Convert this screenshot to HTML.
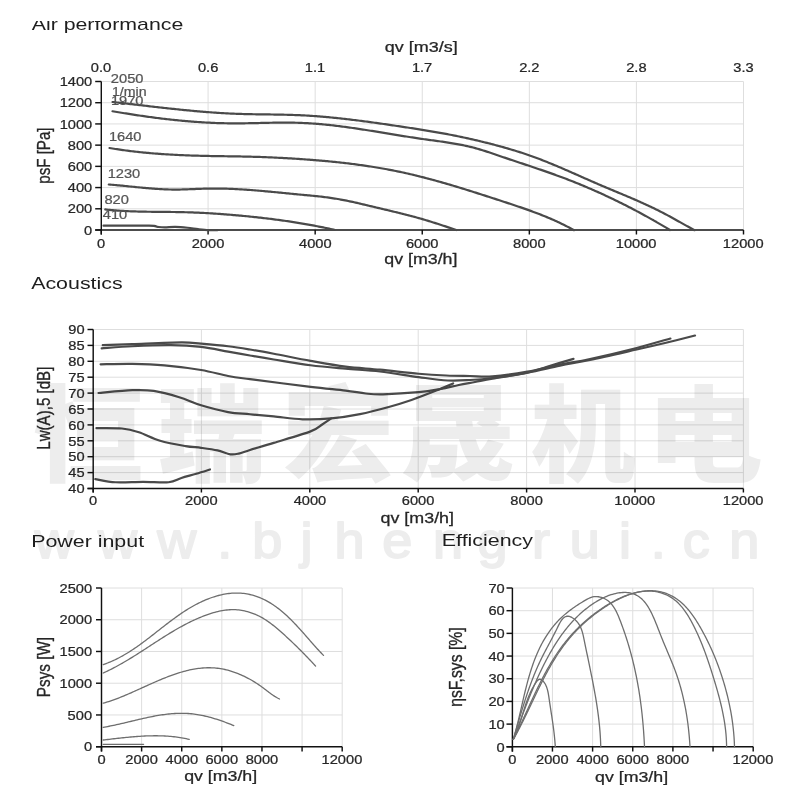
<!DOCTYPE html>
<html><head><meta charset="utf-8"><title>Fan curves</title>
<style>
html,body{margin:0;padding:0;background:#fff;}
body{width:800px;height:800px;overflow:hidden;}
svg{display:block;}
text{font-family:"Liberation Sans",Arial,sans-serif;fill:#262626;stroke:#262626;stroke-width:0.25;}
.ti{fill:#1e1e1e;stroke:none;}
.cl{fill:#555;stroke:#555;}
.g{stroke:#dedede;stroke-width:1;}
.ax{stroke:#111;stroke-width:1.45;}
.c1{fill:none;stroke:#4a4a4a;stroke-width:2.2;stroke-linejoin:round;stroke-linecap:round;}
.c2{fill:none;stroke:#6e6e6e;stroke-width:1.3;stroke-linejoin:round;stroke-linecap:round;}
.wm1{font-family:"Liberation Sans","Noto Sans CJK SC",sans-serif;font-weight:900;fill:#ededed;stroke:none;}
.wm2{font-family:"Liberation Sans",sans-serif;fill:#ededed;stroke:#ededed;stroke-width:1.8;stroke-linejoin:round;}
.wmg{mix-blend-mode:multiply;}
</style></head>
<body><svg width="800" height="800" viewBox="0 0 800 800">
<rect width="800" height="800" fill="#fff"/>
<line class="g" x1="208.08" y1="81.5" x2="208.08" y2="230"/>
<line class="g" x1="315.17" y1="81.5" x2="315.17" y2="230"/>
<line class="g" x1="422.25" y1="81.5" x2="422.25" y2="230"/>
<line class="g" x1="529.33" y1="81.5" x2="529.33" y2="230"/>
<line class="g" x1="636.42" y1="81.5" x2="636.42" y2="230"/>
<line class="g" x1="743.5" y1="81.5" x2="743.5" y2="230"/>
<line class="g" x1="101" y1="208.79" x2="743.5" y2="208.79"/>
<line class="g" x1="101" y1="187.57" x2="743.5" y2="187.57"/>
<line class="g" x1="101" y1="166.36" x2="743.5" y2="166.36"/>
<line class="g" x1="101" y1="145.14" x2="743.5" y2="145.14"/>
<line class="g" x1="101" y1="123.93" x2="743.5" y2="123.93"/>
<line class="g" x1="101" y1="102.71" x2="743.5" y2="102.71"/>
<line class="g" x1="101" y1="81.5" x2="743.5" y2="81.5"/>
<line class="ax" x1="101.3" y1="81.5" x2="101.3" y2="234.5"/>
<line class="ax" x1="95.2" y1="230" x2="743.5" y2="230"/>
<line class="ax" x1="95.2" y1="230" x2="101.3" y2="230"/>
<text class="t" font-size="13.2" transform="translate(84.12 234.7) scale(1.1100 1)">0</text>
<line class="ax" x1="95.2" y1="208.79" x2="101.3" y2="208.79"/>
<text class="t" font-size="13.2" transform="translate(67.82 213.49) scale(1.1100 1)">200</text>
<line class="ax" x1="95.2" y1="187.57" x2="101.3" y2="187.57"/>
<text class="t" font-size="13.2" transform="translate(67.82 192.27) scale(1.1100 1)">400</text>
<line class="ax" x1="95.2" y1="166.36" x2="101.3" y2="166.36"/>
<text class="t" font-size="13.2" transform="translate(67.82 171.06) scale(1.1100 1)">600</text>
<line class="ax" x1="95.2" y1="145.14" x2="101.3" y2="145.14"/>
<text class="t" font-size="13.2" transform="translate(67.82 149.84) scale(1.1100 1)">800</text>
<line class="ax" x1="95.2" y1="123.93" x2="101.3" y2="123.93"/>
<text class="t" font-size="13.2" transform="translate(59.69 128.63) scale(1.1100 1)">1000</text>
<line class="ax" x1="95.2" y1="102.71" x2="101.3" y2="102.71"/>
<text class="t" font-size="13.2" transform="translate(59.69 107.41) scale(1.1100 1)">1200</text>
<line class="ax" x1="95.2" y1="81.5" x2="101.3" y2="81.5"/>
<text class="t" font-size="13.2" transform="translate(59.69 86.2) scale(1.1100 1)">1400</text>
<line class="ax" x1="101.3" y1="230" x2="101.3" y2="234.5"/>
<text class="t" font-size="13.2" transform="translate(96.92 247.5) scale(1.1100 1)">0</text>
<line class="ax" x1="208.08" y1="230" x2="208.08" y2="234.5"/>
<text class="t" font-size="13.2" transform="translate(191.71 247.5) scale(1.1100 1)">2000</text>
<line class="ax" x1="315.17" y1="230" x2="315.17" y2="234.5"/>
<text class="t" font-size="13.2" transform="translate(298.99 247.5) scale(1.1100 1)">4000</text>
<line class="ax" x1="422.25" y1="230" x2="422.25" y2="234.5"/>
<text class="t" font-size="13.2" transform="translate(405.88 247.5) scale(1.1100 1)">6000</text>
<line class="ax" x1="529.33" y1="230" x2="529.33" y2="234.5"/>
<text class="t" font-size="13.2" transform="translate(513.01 247.5) scale(1.1100 1)">8000</text>
<line class="ax" x1="636.42" y1="230" x2="636.42" y2="234.5"/>
<text class="t" font-size="13.2" transform="translate(615.78 247.5) scale(1.1100 1)">10000</text>
<line class="ax" x1="743.5" y1="230" x2="743.5" y2="234.5"/>
<text class="t" font-size="13.2" transform="translate(722.86 247.5) scale(1.1100 1)">12000</text>
<text class="t" font-size="13.2" transform="translate(90.8 72) scale(1.1100 1)">0.0</text>
<text class="t" font-size="13.2" transform="translate(197.92 72) scale(1.1100 1)">0.6</text>
<text class="t" font-size="13.2" transform="translate(304.78 72) scale(1.1100 1)">1.1</text>
<text class="t" font-size="13.2" transform="translate(411.88 72) scale(1.1100 1)">1.7</text>
<text class="t" font-size="13.2" transform="translate(519.15 72) scale(1.1100 1)">2.2</text>
<text class="t" font-size="13.2" transform="translate(626.18 72) scale(1.1100 1)">2.8</text>
<text class="t" font-size="13.2" transform="translate(733.35 72) scale(1.1100 1)">3.3</text>
<path class="c1" d="M112.5,102 113.99,102.16 115.49,102.33 116.98,102.5 118.48,102.67 119.97,102.84 121.46,103.01 122.96,103.18 124.45,103.35 125.95,103.52 127.44,103.69 128.94,103.87 130.43,104.04 131.92,104.21 133.42,104.39 134.91,104.56 136.41,104.73 137.9,104.91 139.4,105.08 140.89,105.26 142.39,105.43 143.88,105.6 145.38,105.78 146.87,105.95 148.36,106.12 149.86,106.29 151.35,106.47 152.85,106.64 154.34,106.81 155.84,106.98 157.34,107.15 158.83,107.32 160.33,107.49 161.82,107.66 163.32,107.82 164.81,107.99 166.31,108.15 167.8,108.32 169.3,108.48 170.8,108.64 172.29,108.8 173.79,108.96 175.28,109.12 176.78,109.28 178.28,109.43 179.77,109.59 181.27,109.74 182.77,109.89 184.26,110.04 185.76,110.18 187.26,110.33 188.75,110.47 190.25,110.62 191.75,110.76 193.24,110.89 194.74,111.03 196.24,111.16 197.74,111.3 199.23,111.43 200.73,111.55 202.23,111.68 203.73,111.8 205.23,111.92 206.72,112.04 208.22,112.16 209.72,112.27 211.22,112.38 212.72,112.49 214.22,112.59 215.72,112.7 217.22,112.79 218.72,112.89 220.21,112.99 221.71,113.08 223.21,113.16 224.71,113.25 226.21,113.33 227.71,113.41 229.21,113.48 230.71,113.55 232.22,113.62 233.72,113.69 235.22,113.75 236.72,113.81 238.22,113.86 239.72,113.91 241.22,113.96 242.72,114 244.23,114.04 245.73,114.08 247.23,114.12 248.73,114.15 250.23,114.18 251.74,114.21 253.24,114.24 254.74,114.26 256.24,114.29 257.75,114.31 259.25,114.33 260.75,114.35 262.25,114.37 263.76,114.39 265.26,114.41 266.76,114.43 268.27,114.45 269.77,114.47 271.27,114.49 272.77,114.51 274.28,114.54 275.78,114.56 277.28,114.58 278.79,114.61 280.29,114.63 281.79,114.66 283.29,114.69 284.8,114.73 286.3,114.76 287.8,114.8 289.3,114.84 290.8,114.89 292.31,114.93 293.81,114.98 295.31,115.04 296.81,115.09 298.31,115.15 299.82,115.22 301.32,115.29 302.82,115.36 304.32,115.44 305.82,115.52 307.32,115.61 308.82,115.7 310.32,115.79 311.82,115.89 313.32,115.99 314.82,116.1 316.32,116.21 317.82,116.32 319.32,116.44 320.82,116.56 322.32,116.68 323.82,116.81 325.31,116.94 326.81,117.07 328.31,117.21 329.81,117.35 331.31,117.49 332.8,117.64 334.3,117.78 335.8,117.94 337.3,118.09 338.79,118.25 340.29,118.41 341.78,118.57 343.28,118.74 344.78,118.91 346.27,119.08 347.77,119.25 349.26,119.43 350.76,119.61 352.25,119.79 353.75,119.97 355.24,120.15 356.74,120.34 358.23,120.53 359.73,120.72 361.22,120.91 362.71,121.11 364.21,121.3 365.7,121.5 367.19,121.7 368.68,121.9 370.18,122.11 371.67,122.31 373.16,122.52 374.65,122.73 376.14,122.94 377.63,123.15 379.12,123.36 380.61,123.57 382.1,123.78 383.59,124 385.08,124.21 386.57,124.43 388.06,124.65 389.55,124.87 391.04,125.09 392.53,125.31 394.02,125.53 395.5,125.75 396.99,125.97 398.48,126.19 399.97,126.41 401.45,126.64 402.94,126.86 404.43,127.08 405.91,127.31 407.4,127.53 408.88,127.76 410.37,127.99 411.85,128.21 413.34,128.44 414.82,128.67 416.3,128.9 417.79,129.14 419.27,129.37 420.75,129.6 422.24,129.84 423.72,130.08 425.2,130.32 426.68,130.56 428.16,130.81 429.65,131.05 431.13,131.3 432.61,131.55 434.09,131.8 435.57,132.06 437.05,132.32 438.53,132.58 440,132.84 441.48,133.1 442.96,133.37 444.44,133.64 445.92,133.92 447.39,134.19 448.87,134.47 450.35,134.76 451.82,135.04 453.3,135.33 454.78,135.63 456.25,135.93 457.72,136.23 459.2,136.53 460.67,136.84 462.15,137.15 463.62,137.46 465.09,137.78 466.56,138.1 468.03,138.42 469.5,138.75 470.97,139.08 472.44,139.41 473.91,139.75 475.38,140.09 476.84,140.43 478.31,140.78 479.78,141.13 481.24,141.48 482.7,141.84 484.17,142.2 485.63,142.56 487.09,142.93 488.55,143.3 490.01,143.67 491.47,144.05 492.92,144.43 494.38,144.81 495.84,145.2 497.29,145.59 498.74,145.98 500.19,146.38 501.64,146.78 503.09,147.18 504.54,147.59 505.99,148 507.43,148.42 508.88,148.84 510.32,149.26 511.76,149.69 513.2,150.12 514.64,150.56 516.07,151 517.51,151.44 518.94,151.89 520.37,152.35 521.8,152.81 523.23,153.28 524.65,153.75 526.08,154.23 527.5,154.72 528.92,155.21 530.33,155.7 531.75,156.2 533.16,156.71 534.57,157.23 535.98,157.75 537.38,158.27 538.79,158.8 540.19,159.34 541.59,159.88 542.99,160.42 544.39,160.97 545.78,161.53 547.18,162.08 548.57,162.65 549.96,163.21 551.35,163.78 552.74,164.36 554.13,164.93 555.52,165.51 556.9,166.1 558.29,166.68 559.67,167.27 561.06,167.86 562.44,168.46 563.82,169.05 565.2,169.65 566.58,170.25 567.96,170.85 569.34,171.45 570.72,172.06 572.09,172.66 573.47,173.27 574.85,173.88 576.23,174.49 577.6,175.1 578.98,175.7 580.36,176.31 581.73,176.92 583.11,177.53 584.49,178.14 585.87,178.75 587.24,179.36 588.62,179.97 590,180.57 591.38,181.18 592.76,181.78 594.14,182.38 595.52,182.98 596.9,183.58 598.28,184.18 599.67,184.77 601.05,185.37 602.44,185.96 603.82,186.54 605.21,187.13 606.59,187.71 607.98,188.3 609.37,188.88 610.76,189.46 612.15,190.04 613.53,190.62 614.92,191.2 616.31,191.78 617.7,192.36 619.09,192.94 620.48,193.52 621.86,194.1 623.25,194.68 624.64,195.26 626.02,195.85 627.41,196.43 628.79,197.02 630.17,197.61 631.55,198.2 632.94,198.79 634.32,199.38 635.69,199.98 637.07,200.58 638.45,201.19 639.82,201.79 641.19,202.4 642.56,203.02 643.93,203.63 645.3,204.26 646.66,204.88 648.03,205.51 649.39,206.15 650.75,206.79 652.1,207.43 653.46,208.08 654.81,208.74 656.15,209.4 657.5,210.07 658.84,210.74 660.18,211.42 661.52,212.11 662.85,212.8 664.19,213.49 665.52,214.2 666.84,214.9 668.17,215.62 669.49,216.33 670.81,217.05 672.13,217.77 673.45,218.5 674.77,219.23 676.08,219.96 677.4,220.69 678.71,221.43 680.03,222.16 681.34,222.9 682.65,223.63 683.97,224.37 685.28,225.1 686.6,225.84 687.91,226.57 689.23,227.3 690.54,228.03 691.86,228.76 693.18,229.49 694.5,230.21"/>
<path class="c1" d="M112.5,111.25 113.99,111.5 115.48,111.75 116.96,112 118.45,112.25 119.94,112.5 121.43,112.74 122.92,112.98 124.41,113.22 125.9,113.46 127.39,113.7 128.88,113.93 130.37,114.17 131.86,114.4 133.35,114.63 134.84,114.85 136.34,115.08 137.83,115.3 139.32,115.52 140.81,115.74 142.31,115.96 143.8,116.17 145.29,116.38 146.79,116.59 148.28,116.8 149.78,117 151.27,117.2 152.77,117.4 154.26,117.6 155.76,117.79 157.25,117.98 158.75,118.17 160.24,118.36 161.74,118.54 163.24,118.72 164.73,118.9 166.23,119.07 167.73,119.25 169.23,119.41 170.73,119.58 172.22,119.74 173.72,119.9 175.22,120.06 176.72,120.21 178.22,120.36 179.72,120.51 181.22,120.65 182.72,120.79 184.22,120.93 185.72,121.07 187.22,121.2 188.72,121.32 190.22,121.45 191.73,121.57 193.23,121.68 194.73,121.8 196.23,121.91 197.74,122.01 199.24,122.11 200.74,122.21 202.24,122.31 203.75,122.4 205.25,122.48 206.76,122.57 208.26,122.64 209.77,122.72 211.27,122.79 212.78,122.86 214.28,122.92 215.79,122.98 217.29,123.03 218.8,123.08 220.31,123.13 221.81,123.17 223.32,123.21 224.83,123.24 226.33,123.27 227.84,123.29 229.35,123.31 230.86,123.33 232.36,123.34 233.87,123.35 235.38,123.35 236.89,123.35 238.4,123.34 239.91,123.33 241.42,123.32 242.93,123.3 244.44,123.28 245.95,123.26 247.46,123.24 248.97,123.21 250.48,123.18 251.99,123.15 253.5,123.12 255.01,123.09 256.52,123.06 258.03,123.03 259.54,122.99 261.05,122.96 262.56,122.92 264.07,122.89 265.58,122.86 267.09,122.83 268.6,122.8 270.11,122.77 271.61,122.74 273.12,122.71 274.63,122.69 276.14,122.67 277.65,122.65 279.16,122.63 280.67,122.62 282.17,122.61 283.68,122.61 285.19,122.61 286.7,122.61 288.2,122.62 289.71,122.63 291.21,122.64 292.72,122.67 294.23,122.69 295.73,122.73 297.23,122.76 298.74,122.81 300.24,122.86 301.74,122.92 303.25,122.98 304.75,123.05 306.25,123.13 307.75,123.21 309.25,123.3 310.75,123.39 312.25,123.49 313.75,123.6 315.25,123.71 316.75,123.83 318.25,123.95 319.75,124.08 321.25,124.21 322.74,124.35 324.24,124.49 325.74,124.64 327.24,124.79 328.73,124.95 330.23,125.11 331.72,125.28 333.22,125.45 334.71,125.62 336.21,125.8 337.7,125.98 339.2,126.16 340.69,126.35 342.19,126.55 343.68,126.74 345.17,126.94 346.67,127.14 348.16,127.35 349.65,127.56 351.15,127.77 352.64,127.98 354.13,128.2 355.62,128.42 357.11,128.64 358.61,128.86 360.1,129.09 361.59,129.31 363.08,129.54 364.57,129.78 366.07,130.01 367.56,130.24 369.05,130.48 370.54,130.72 372.03,130.96 373.52,131.2 375.01,131.44 376.5,131.68 377.99,131.92 379.48,132.17 380.98,132.41 382.47,132.65 383.96,132.9 385.45,133.14 386.94,133.39 388.43,133.63 389.92,133.88 391.41,134.12 392.9,134.37 394.39,134.61 395.89,134.86 397.38,135.1 398.87,135.34 400.36,135.58 401.85,135.82 403.34,136.06 404.83,136.3 406.33,136.53 407.82,136.77 409.31,137 410.8,137.23 412.3,137.46 413.79,137.69 415.28,137.91 416.77,138.14 418.27,138.36 419.76,138.58 421.25,138.79 422.75,139.01 424.24,139.22 425.74,139.43 427.23,139.63 428.73,139.84 430.22,140.04 431.71,140.25 433.21,140.45 434.7,140.66 436.19,140.86 437.69,141.07 439.18,141.28 440.67,141.49 442.16,141.7 443.65,141.92 445.13,142.14 446.62,142.36 448.11,142.59 449.59,142.82 451.08,143.06 452.56,143.3 454.04,143.55 455.52,143.81 456.99,144.07 458.47,144.34 459.94,144.62 461.41,144.9 462.88,145.2 464.35,145.5 465.81,145.82 467.28,146.14 468.74,146.48 470.2,146.82 471.65,147.18 473.1,147.55 474.55,147.93 476,148.33 477.45,148.73 478.89,149.15 480.33,149.58 481.77,150.01 483.2,150.46 484.64,150.92 486.07,151.38 487.5,151.84 488.93,152.32 490.36,152.8 491.79,153.28 493.22,153.76 494.65,154.25 496.08,154.74 497.5,155.23 498.93,155.72 500.36,156.21 501.79,156.69 503.22,157.18 504.65,157.66 506.08,158.15 507.52,158.63 508.95,159.11 510.38,159.59 511.81,160.07 513.25,160.54 514.68,161.02 516.11,161.5 517.55,161.97 518.98,162.45 520.41,162.93 521.85,163.4 523.28,163.88 524.72,164.36 526.15,164.83 527.58,165.31 529.02,165.79 530.45,166.27 531.88,166.75 533.31,167.23 534.74,167.71 536.17,168.2 537.6,168.68 539.03,169.17 540.46,169.65 541.89,170.14 543.32,170.63 544.74,171.13 546.17,171.62 547.6,172.12 549.02,172.62 550.44,173.12 551.86,173.63 553.28,174.13 554.7,174.64 556.12,175.16 557.54,175.67 558.96,176.19 560.37,176.71 561.78,177.24 563.19,177.77 564.6,178.3 566.01,178.84 567.42,179.38 568.83,179.92 570.23,180.47 571.63,181.02 573.03,181.57 574.43,182.13 575.83,182.69 577.23,183.25 578.62,183.82 580.02,184.39 581.41,184.96 582.8,185.54 584.19,186.12 585.58,186.71 586.96,187.3 588.35,187.89 589.73,188.48 591.11,189.08 592.49,189.68 593.87,190.29 595.25,190.9 596.62,191.51 598,192.12 599.37,192.74 600.74,193.36 602.11,193.99 603.48,194.62 604.85,195.25 606.21,195.88 607.58,196.52 608.94,197.16 610.3,197.8 611.66,198.45 613.02,199.1 614.38,199.76 615.73,200.41 617.08,201.08 618.44,201.74 619.79,202.41 621.14,203.08 622.48,203.75 623.83,204.43 625.17,205.1 626.52,205.79 627.86,206.47 629.2,207.16 630.54,207.85 631.87,208.55 633.21,209.25 634.54,209.95 635.88,210.65 637.21,211.36 638.54,212.07 639.86,212.78 641.19,213.5 642.52,214.22 643.84,214.94 645.16,215.67 646.48,216.4 647.8,217.13 649.12,217.86 650.44,218.6 651.75,219.34 653.06,220.08 654.37,220.83 655.69,221.58 656.99,222.33 658.3,223.08 659.61,223.84 660.91,224.6 662.21,225.37 663.51,226.13 664.81,226.9 666.11,227.67 667.41,228.45 668.7,229.23 670,230.01"/>
<path class="c1" d="M109.5,148 110.99,148.25 112.48,148.49 113.97,148.73 115.46,148.97 116.95,149.2 118.44,149.42 119.93,149.64 121.42,149.86 122.92,150.07 124.41,150.27 125.9,150.47 127.4,150.67 128.89,150.86 130.39,151.05 131.88,151.23 133.38,151.41 134.87,151.58 136.37,151.75 137.87,151.92 139.36,152.08 140.86,152.24 142.36,152.39 143.86,152.54 145.36,152.68 146.85,152.82 148.35,152.96 149.85,153.1 151.35,153.23 152.85,153.35 154.35,153.48 155.85,153.59 157.36,153.71 158.86,153.82 160.36,153.93 161.86,154.04 163.36,154.14 164.86,154.24 166.37,154.33 167.87,154.43 169.37,154.52 170.87,154.6 172.38,154.69 173.88,154.77 175.38,154.85 176.89,154.92 178.39,155 179.9,155.07 181.4,155.13 182.9,155.2 184.41,155.26 185.91,155.32 187.42,155.38 188.92,155.43 190.43,155.49 191.93,155.54 193.44,155.59 194.94,155.63 196.45,155.68 197.95,155.72 199.46,155.76 200.96,155.8 202.47,155.84 203.97,155.87 205.48,155.91 206.99,155.94 208.49,155.97 210,156 211.5,156.03 213.01,156.05 214.51,156.08 216.02,156.1 217.52,156.13 219.03,156.15 220.53,156.17 222.04,156.2 223.54,156.22 225.05,156.24 226.56,156.26 228.06,156.28 229.57,156.3 231.07,156.33 232.58,156.35 234.08,156.37 235.59,156.4 237.09,156.42 238.6,156.45 240.1,156.47 241.61,156.5 243.11,156.53 244.62,156.56 246.12,156.59 247.63,156.63 249.13,156.66 250.64,156.7 252.14,156.74 253.64,156.78 255.15,156.83 256.65,156.87 258.16,156.92 259.66,156.97 261.17,157.02 262.67,157.08 264.17,157.13 265.68,157.19 267.18,157.25 268.69,157.31 270.19,157.38 271.69,157.44 273.2,157.51 274.7,157.58 276.21,157.65 277.71,157.73 279.21,157.8 280.72,157.88 282.22,157.96 283.72,158.04 285.23,158.12 286.73,158.21 288.23,158.29 289.74,158.38 291.24,158.47 292.74,158.57 294.25,158.66 295.75,158.76 297.25,158.85 298.76,158.95 300.26,159.05 301.76,159.16 303.27,159.26 304.77,159.37 306.27,159.48 307.77,159.59 309.28,159.7 310.78,159.82 312.28,159.93 313.78,160.05 315.29,160.17 316.79,160.29 318.29,160.42 319.79,160.55 321.29,160.68 322.79,160.81 324.3,160.94 325.8,161.08 327.3,161.22 328.8,161.36 330.3,161.51 331.8,161.65 333.29,161.8 334.79,161.96 336.29,162.11 337.79,162.27 339.29,162.43 340.79,162.59 342.28,162.76 343.78,162.93 345.28,163.1 346.77,163.28 348.27,163.46 349.76,163.64 351.26,163.82 352.75,164.01 354.24,164.2 355.74,164.39 357.23,164.59 358.72,164.79 360.21,165 361.7,165.2 363.19,165.41 364.68,165.63 366.17,165.85 367.66,166.07 369.15,166.29 370.63,166.52 372.12,166.75 373.6,166.99 375.09,167.23 376.57,167.47 378.06,167.72 379.54,167.97 381.02,168.23 382.5,168.49 383.98,168.75 385.46,169.02 386.94,169.29 388.42,169.56 389.9,169.84 391.37,170.13 392.85,170.41 394.32,170.71 395.8,171 397.27,171.3 398.74,171.61 400.22,171.92 401.69,172.23 403.16,172.55 404.62,172.88 406.09,173.2 407.56,173.53 409.02,173.87 410.49,174.21 411.95,174.55 413.42,174.9 414.88,175.25 416.34,175.61 417.8,175.97 419.26,176.33 420.72,176.7 422.18,177.07 423.64,177.44 425.09,177.82 426.55,178.2 428.01,178.58 429.46,178.97 430.92,179.36 432.37,179.75 433.82,180.15 435.27,180.54 436.72,180.95 438.18,181.35 439.63,181.76 441.08,182.17 442.52,182.58 443.97,183 445.42,183.42 446.87,183.84 448.31,184.26 449.76,184.68 451.2,185.11 452.65,185.54 454.09,185.97 455.54,186.41 456.98,186.84 458.42,187.28 459.87,187.72 461.31,188.16 462.75,188.61 464.19,189.05 465.63,189.5 467.07,189.94 468.51,190.39 469.95,190.85 471.39,191.3 472.82,191.75 474.26,192.21 475.7,192.66 477.14,193.12 478.57,193.58 480.01,194.04 481.45,194.5 482.88,194.96 484.32,195.42 485.75,195.88 487.19,196.35 488.62,196.81 490.05,197.27 491.49,197.74 492.92,198.2 494.36,198.67 495.79,199.14 497.22,199.6 498.65,200.07 500.09,200.53 501.52,201 502.95,201.47 504.38,201.93 505.81,202.4 507.25,202.87 508.68,203.34 510.11,203.81 511.53,204.28 512.96,204.75 514.39,205.23 515.82,205.71 517.24,206.19 518.67,206.67 520.09,207.15 521.51,207.64 522.93,208.13 524.35,208.62 525.77,209.12 527.19,209.62 528.6,210.12 530.02,210.63 531.43,211.15 532.84,211.66 534.25,212.18 535.66,212.71 537.06,213.24 538.46,213.78 539.86,214.32 541.26,214.87 542.66,215.42 544.05,215.98 545.44,216.54 546.83,217.12 548.22,217.7 549.6,218.28 550.99,218.87 552.36,219.47 553.74,220.08 555.11,220.69 556.48,221.32 557.85,221.95 559.22,222.58 560.58,223.23 561.93,223.89 563.29,224.55 564.64,225.22 565.99,225.9 567.33,226.6 568.67,227.3 570.01,228.01 571.34,228.73 572.67,229.46 574,230.2"/>
<path class="c1" d="M108.75,184.5 110.26,184.62 111.76,184.74 113.27,184.87 114.78,185 116.29,185.14 117.79,185.28 119.3,185.42 120.81,185.56 122.31,185.71 123.82,185.86 125.33,186.01 126.83,186.16 128.34,186.31 129.85,186.47 131.35,186.62 132.86,186.77 134.37,186.92 135.87,187.07 137.38,187.22 138.89,187.37 140.39,187.52 141.9,187.66 143.41,187.8 144.91,187.94 146.42,188.08 147.93,188.21 149.43,188.34 150.94,188.46 152.45,188.58 153.96,188.69 155.46,188.8 156.97,188.9 158.48,189 159.99,189.09 161.5,189.17 163,189.25 164.51,189.32 166.02,189.38 167.53,189.43 169.04,189.48 170.55,189.51 172.06,189.54 173.57,189.56 175.08,189.57 176.59,189.56 178.1,189.55 179.61,189.53 181.12,189.5 182.63,189.47 184.14,189.43 185.65,189.38 187.16,189.33 188.67,189.27 190.18,189.22 191.69,189.16 193.21,189.1 194.72,189.03 196.23,188.97 197.74,188.91 199.25,188.85 200.76,188.8 202.27,188.75 203.79,188.7 205.3,188.65 206.81,188.62 208.32,188.59 209.83,188.56 211.34,188.54 212.85,188.53 214.36,188.53 215.87,188.53 217.38,188.54 218.89,188.55 220.41,188.58 221.92,188.6 223.43,188.63 224.94,188.67 226.45,188.71 227.96,188.76 229.47,188.81 230.98,188.87 232.49,188.94 234,189 235.5,189.08 237.01,189.15 238.52,189.23 240.03,189.32 241.54,189.41 243.05,189.5 244.56,189.6 246.07,189.7 247.58,189.8 249.09,189.91 250.6,190.02 252.11,190.14 253.61,190.25 255.12,190.37 256.63,190.5 258.14,190.62 259.65,190.75 261.16,190.88 262.66,191.01 264.17,191.14 265.68,191.28 267.19,191.42 268.7,191.56 270.2,191.7 271.71,191.84 273.22,191.98 274.73,192.13 276.23,192.27 277.74,192.42 279.25,192.56 280.75,192.71 282.26,192.86 283.77,193.01 285.28,193.15 286.78,193.3 288.29,193.45 289.8,193.6 291.3,193.74 292.81,193.89 294.32,194.04 295.82,194.18 297.33,194.32 298.83,194.47 300.34,194.61 301.85,194.75 303.35,194.89 304.86,195.03 306.36,195.17 307.87,195.31 309.37,195.45 310.88,195.6 312.38,195.74 313.88,195.89 315.39,196.05 316.89,196.2 318.39,196.36 319.89,196.53 321.39,196.7 322.89,196.88 324.39,197.06 325.88,197.25 327.38,197.45 328.87,197.65 330.37,197.86 331.86,198.08 333.35,198.3 334.84,198.54 336.33,198.78 337.82,199.03 339.31,199.29 340.79,199.55 342.28,199.83 343.76,200.11 345.24,200.4 346.73,200.7 348.21,201 349.69,201.31 351.16,201.63 352.64,201.95 354.12,202.28 355.6,202.61 357.07,202.94 358.55,203.28 360.02,203.62 361.5,203.97 362.97,204.31 364.45,204.66 365.92,205.01 367.4,205.37 368.87,205.72 370.34,206.07 371.82,206.43 373.29,206.78 374.76,207.13 376.24,207.49 377.71,207.84 379.19,208.19 380.66,208.54 382.13,208.89 383.61,209.24 385.08,209.59 386.56,209.94 388.03,210.29 389.5,210.64 390.97,210.99 392.45,211.34 393.92,211.7 395.39,212.05 396.86,212.41 398.33,212.77 399.8,213.13 401.27,213.5 402.73,213.86 404.2,214.23 405.67,214.6 407.13,214.98 408.59,215.35 410.06,215.74 411.52,216.12 412.98,216.51 414.44,216.9 415.89,217.3 417.35,217.7 418.8,218.11 420.26,218.52 421.71,218.93 423.16,219.36 424.6,219.78 426.05,220.21 427.5,220.65 428.94,221.09 430.38,221.54 431.82,221.99 433.26,222.44 434.7,222.9 436.14,223.36 437.58,223.82 439.02,224.28 440.45,224.75 441.89,225.22 443.32,225.7 444.76,226.17 446.2,226.65 447.63,227.13 449.07,227.6 450.5,228.08 451.94,228.56 453.37,229.04 454.81,229.53 456.25,230.01"/>
<path class="c1" d="M105.25,209.41 106.75,209.58 108.26,209.74 109.77,209.89 111.27,210.03 112.78,210.17 114.28,210.3 115.79,210.42 117.3,210.53 118.8,210.64 120.31,210.74 121.82,210.84 123.33,210.93 124.83,211.01 126.34,211.09 127.85,211.16 129.36,211.23 130.87,211.29 132.38,211.35 133.88,211.41 135.39,211.46 136.9,211.5 138.41,211.54 139.92,211.58 141.43,211.62 142.94,211.65 144.45,211.68 145.96,211.71 147.47,211.73 148.98,211.75 150.49,211.77 152,211.79 153.51,211.81 155.02,211.82 156.53,211.84 158.04,211.85 159.55,211.87 161.06,211.88 162.57,211.89 164.08,211.9 165.59,211.92 167.1,211.93 168.61,211.95 170.12,211.96 171.63,211.98 173.14,212 174.65,212.02 176.16,212.04 177.67,212.06 179.18,212.09 180.69,212.12 182.2,212.15 183.71,212.19 185.22,212.23 186.72,212.27 188.23,212.31 189.74,212.36 191.25,212.41 192.76,212.47 194.27,212.53 195.78,212.59 197.28,212.65 198.79,212.72 200.3,212.79 201.81,212.86 203.31,212.94 204.82,213.02 206.33,213.1 207.84,213.18 209.34,213.27 210.85,213.36 212.36,213.45 213.86,213.55 215.37,213.65 216.88,213.75 218.38,213.85 219.89,213.96 221.4,214.07 222.9,214.18 224.41,214.29 225.92,214.41 227.42,214.53 228.93,214.65 230.43,214.77 231.94,214.9 233.44,215.03 234.95,215.16 236.45,215.29 237.96,215.42 239.46,215.56 240.97,215.7 242.47,215.84 243.98,215.98 245.48,216.13 246.99,216.28 248.49,216.43 250,216.58 251.5,216.73 253,216.89 254.51,217.05 256.01,217.21 257.51,217.37 259.02,217.54 260.52,217.71 262.02,217.88 263.52,218.05 265.03,218.23 266.53,218.41 268.03,218.59 269.53,218.78 271.03,218.96 272.53,219.15 274.03,219.34 275.53,219.54 277.03,219.74 278.53,219.94 280.02,220.14 281.52,220.35 283.02,220.56 284.51,220.77 286.01,220.99 287.51,221.21 289,221.43 290.49,221.65 291.99,221.88 293.48,222.11 294.97,222.35 296.47,222.58 297.96,222.82 299.45,223.07 300.94,223.32 302.43,223.57 303.92,223.82 305.41,224.08 306.89,224.34 308.38,224.6 309.87,224.87 311.35,225.14 312.83,225.42 314.32,225.7 315.8,225.98 317.28,226.26 318.76,226.55 320.25,226.85 321.73,227.14 323.2,227.44 324.68,227.75 326.16,228.06 327.64,228.37 329.11,228.68 330.58,229 332.06,229.33 333.53,229.65 335,229.99"/>
<path class="c1" d="M103.5,225.65 C111.08,225.65 139.96,225.44 149,225.65 C158.04,225.86 155.12,226.61 157.75,226.9 C160.38,227.19 161.83,227.4 164.75,227.4 C167.67,227.4 171.46,226.84 175.25,226.9 C179.04,226.96 183.71,227.38 187.5,227.75 C191.29,228.12 194.5,228.74 198,229.15 C201.5,229.56 205.25,230.02 208.5,230.2 C211.75,230.38 216,230.2 217.5,230.2"/>
<text class="cl" font-size="13.2" transform="translate(110.87 82.9) scale(1.1100 1)">2050</text>
<text class="cl" font-size="13.2" transform="translate(110.9 104.8) scale(1.1100 1)">1970</text>
<text class="cl" font-size="13.2" transform="translate(108.9 141.25) scale(1.1100 1)">1640</text>
<text class="cl" font-size="13.2" transform="translate(107.65 178.1) scale(1.1100 1)">1230</text>
<text class="cl" font-size="13.2" transform="translate(104.38 203.75) scale(1.1100 1)">820</text>
<text class="cl" font-size="13.2" transform="translate(102.77 219.4) scale(1.1100 1)">410</text>
<text class="cl" font-size="13.2" transform="translate(111.94 95.6) scale(1.0736 1)">1/min</text>
<text class="ti" font-size="17" transform="translate(31.7 30.35) scale(1.2547 1)">Air performance</text>
<text class="t" font-size="14" transform="translate(384.74 51.5) scale(1.2855 1)">qv [m3/s]</text>
<text class="t" font-size="14" transform="translate(384.24 264.4) scale(1.2723 1)">qv [m3/h]</text>
<text class="t" font-size="14" transform="translate(49.8 183.73) scale(1.32 1) rotate(-90) scale(1.0801 1)">psF [Pa]</text>
<line class="g" x1="201.4" y1="329.5" x2="201.4" y2="488.5"/>
<line class="g" x1="309.8" y1="329.5" x2="309.8" y2="488.5"/>
<line class="g" x1="418.2" y1="329.5" x2="418.2" y2="488.5"/>
<line class="g" x1="526.6" y1="329.5" x2="526.6" y2="488.5"/>
<line class="g" x1="635" y1="329.5" x2="635" y2="488.5"/>
<line class="g" x1="743.4" y1="329.5" x2="743.4" y2="488.5"/>
<line class="g" x1="93" y1="472.6" x2="743.4" y2="472.6"/>
<line class="g" x1="93" y1="456.7" x2="743.4" y2="456.7"/>
<line class="g" x1="93" y1="440.8" x2="743.4" y2="440.8"/>
<line class="g" x1="93" y1="424.9" x2="743.4" y2="424.9"/>
<line class="g" x1="93" y1="409" x2="743.4" y2="409"/>
<line class="g" x1="93" y1="393.1" x2="743.4" y2="393.1"/>
<line class="g" x1="93" y1="377.2" x2="743.4" y2="377.2"/>
<line class="g" x1="93" y1="361.3" x2="743.4" y2="361.3"/>
<line class="g" x1="93" y1="345.4" x2="743.4" y2="345.4"/>
<line class="g" x1="93" y1="329.5" x2="743.4" y2="329.5"/>
<line class="ax" x1="93.2" y1="329.5" x2="93.2" y2="492.5"/>
<line class="ax" x1="87.5" y1="488.5" x2="743.4" y2="488.5"/>
<line class="ax" x1="87.5" y1="488.5" x2="93.2" y2="488.5"/>
<text class="t" font-size="13.2" transform="translate(68.29 493.2) scale(1.1100 1)">40</text>
<line class="ax" x1="87.5" y1="472.6" x2="93.2" y2="472.6"/>
<text class="t" font-size="13.2" transform="translate(68.32 477.3) scale(1.1100 1)">45</text>
<line class="ax" x1="87.5" y1="456.7" x2="93.2" y2="456.7"/>
<text class="t" font-size="13.2" transform="translate(68.29 461.4) scale(1.1100 1)">50</text>
<line class="ax" x1="87.5" y1="440.8" x2="93.2" y2="440.8"/>
<text class="t" font-size="13.2" transform="translate(68.32 445.5) scale(1.1100 1)">55</text>
<line class="ax" x1="87.5" y1="424.9" x2="93.2" y2="424.9"/>
<text class="t" font-size="13.2" transform="translate(68.29 429.6) scale(1.1100 1)">60</text>
<line class="ax" x1="87.5" y1="409" x2="93.2" y2="409"/>
<text class="t" font-size="13.2" transform="translate(68.32 413.7) scale(1.1100 1)">65</text>
<line class="ax" x1="87.5" y1="393.1" x2="93.2" y2="393.1"/>
<text class="t" font-size="13.2" transform="translate(68.29 397.8) scale(1.1100 1)">70</text>
<line class="ax" x1="87.5" y1="377.2" x2="93.2" y2="377.2"/>
<text class="t" font-size="13.2" transform="translate(68.32 381.9) scale(1.1100 1)">75</text>
<line class="ax" x1="87.5" y1="361.3" x2="93.2" y2="361.3"/>
<text class="t" font-size="13.2" transform="translate(68.29 366) scale(1.1100 1)">80</text>
<line class="ax" x1="87.5" y1="345.4" x2="93.2" y2="345.4"/>
<text class="t" font-size="13.2" transform="translate(68.32 350.1) scale(1.1100 1)">85</text>
<line class="ax" x1="87.5" y1="329.5" x2="93.2" y2="329.5"/>
<text class="t" font-size="13.2" transform="translate(68.29 334.2) scale(1.1100 1)">90</text>
<line class="ax" x1="93.2" y1="488.5" x2="93.2" y2="492.5"/>
<text class="t" font-size="13.2" transform="translate(88.92 505.4) scale(1.1100 1)">0</text>
<line class="ax" x1="201.4" y1="488.5" x2="201.4" y2="492.5"/>
<text class="t" font-size="13.2" transform="translate(185.03 505.4) scale(1.1100 1)">2000</text>
<line class="ax" x1="309.8" y1="488.5" x2="309.8" y2="492.5"/>
<text class="t" font-size="13.2" transform="translate(293.63 505.4) scale(1.1100 1)">4000</text>
<line class="ax" x1="418.2" y1="488.5" x2="418.2" y2="492.5"/>
<text class="t" font-size="13.2" transform="translate(401.83 505.4) scale(1.1100 1)">6000</text>
<line class="ax" x1="526.6" y1="488.5" x2="526.6" y2="492.5"/>
<text class="t" font-size="13.2" transform="translate(510.28 505.4) scale(1.1100 1)">8000</text>
<line class="ax" x1="635" y1="488.5" x2="635" y2="492.5"/>
<text class="t" font-size="13.2" transform="translate(614.36 505.4) scale(1.1100 1)">10000</text>
<line class="ax" x1="743.4" y1="488.5" x2="743.4" y2="492.5"/>
<text class="t" font-size="13.2" transform="translate(722.76 505.4) scale(1.1100 1)">12000</text>
<path class="c1" d="M102.75,345.2 C107.71,345.02 119.39,344.57 132.5,344.1 C145.61,343.63 169.97,342.47 181.4,342.4 C192.83,342.33 193.32,343.06 201.1,343.7 C208.88,344.34 219.95,345.28 228.1,346.25 C236.25,347.22 242.39,348.25 250,349.5 C257.61,350.75 263.66,351.85 273.75,353.75 C283.84,355.65 298.57,358.74 310.55,360.9 C322.53,363.06 334.03,365.23 345.6,366.7 C357.18,368.17 367.82,368.52 380,369.7 C392.18,370.88 407.65,372.78 418.7,373.75 C429.75,374.72 437.75,375.12 446.3,375.5 C454.85,375.88 462.3,375.87 470,376 C477.7,376.13 482.93,377.03 492.5,376.3 C502.07,375.57 516.15,373.55 527.4,371.6 C538.65,369.65 549.57,366.7 560,364.6 C570.43,362.5 577.4,361.73 590,359 C602.6,356.27 622.2,351.62 635.6,348.2 C649,344.78 664.6,340.12 670.4,338.5"/>
<path class="c1" d="M101.7,348.4 C106.83,348.04 120.99,346.78 132.5,346.25 C144.01,345.72 159.32,345.09 170.75,345.2 C182.18,345.31 191.54,345.83 201.1,346.9 C210.66,347.97 219.95,350.17 228.1,351.6 C236.25,353.03 242.39,354.18 250,355.5 C257.61,356.82 263.66,357.88 273.75,359.5 C283.84,361.12 298.57,363.72 310.55,365.25 C322.53,366.78 334.03,367.66 345.6,368.7 C357.18,369.74 367.82,370.1 380,371.5 C392.18,372.9 407.45,375.6 418.7,377.1 C429.95,378.6 438.95,380.02 447.5,380.5 C456.05,380.98 462.5,380.42 470,380 C477.5,379.58 482.93,379.23 492.5,378 C502.07,376.77 516.15,374.67 527.4,372.6 C538.65,370.53 549.57,367.7 560,365.6 C570.43,363.5 577.4,362.63 590,360 C602.6,357.37 623.1,352.63 635.6,349.8 C648.1,346.97 655.1,345.38 665,343 C674.9,340.62 690,336.75 695,335.5"/>
<path class="c1" d="M100.6,364.3 C105.92,364.23 121.87,363.72 132.5,363.9 C143.13,364.08 152.97,364.38 164.4,365.4 C175.83,366.42 190.48,368.23 201.1,370 C211.72,371.77 219.95,374.47 228.1,376 C236.25,377.53 236.26,377.4 250,379.2 C263.74,381 294.62,384.91 310.55,386.8 C326.48,388.69 336.4,389.43 345.6,390.55 C354.8,391.67 359.52,392.88 365.75,393.5 C371.98,394.12 374.18,394.52 383,394.3 C391.82,394.08 409.12,393.08 418.7,392.2 C428.28,391.32 433.82,390.2 440.5,389 C447.18,387.8 453,386.17 458.75,385 C464.5,383.83 469.38,383.05 475,382 C480.62,380.95 483.77,380.27 492.5,378.7 C501.23,377.13 517.65,374.8 527.4,372.6 C537.15,370.4 543.32,367.78 551,365.5 C558.68,363.22 569.75,360 573.5,358.9"/>
<path class="c1" d="M98.5,393 C104.17,392.53 123.29,390.55 132.5,390.2 C141.71,389.85 145.96,389.72 153.75,390.9 C161.54,392.07 171.36,394.85 179.25,397.25 C187.14,399.65 192.96,402.82 201.1,405.3 C209.24,407.78 219.95,410.61 228.1,412.1 C236.25,413.59 242.39,413.53 250,414.25 C257.61,414.97 265,415.56 273.75,416.4 C282.5,417.24 292.92,418.97 302.5,419.3 C312.08,419.63 321.67,419.27 331.25,418.4 C340.83,417.53 350.42,416 360,414.1 C369.58,412.2 380.17,409.35 388.75,407 C397.33,404.65 403.58,402.73 411.5,400 C419.42,397.27 429.32,393.37 436.25,390.6 C443.18,387.83 450.29,384.6 453.1,383.4"/>
<path class="c1" d="M96.4,428.1 C100.65,428.17 114.82,427.8 121.9,428.5 C128.98,429.2 132.53,430.25 138.9,432.3 C145.27,434.35 152.32,438.5 160.1,440.8 C167.88,443.1 178.77,444.93 185.6,446.1 C192.43,447.27 195.78,447.08 201.1,447.8 C206.42,448.52 212.64,449.32 217.5,450.4 C222.36,451.48 226.71,453.77 230.25,454.3 C233.79,454.83 235.46,454.32 238.75,453.6 C242.04,452.88 244.17,451.78 250,450 C255.83,448.22 263.66,446 273.75,442.9 C283.84,439.8 302.41,434.52 310.55,431.4 C318.69,428.28 319.15,426.37 322.6,424.2 C326.05,422.03 329.81,419.37 331.25,418.4"/>
<path class="c1" d="M95.3,479.1 C98.67,479.62 107.53,481.8 115.5,482.25 C123.47,482.7 134.25,481.8 143.1,481.8 C151.95,481.8 162.22,482.88 168.6,482.25 C174.98,481.62 176.79,479.42 181.4,478 C186.01,476.58 191.48,475.17 196.25,473.75 C201.02,472.33 207.71,470.21 210,469.5"/>
<text class="ti" font-size="17" transform="translate(31.15 288.8) scale(1.2590 1)">Acoustics</text>
<text class="t" font-size="14" transform="translate(380.54 523) scale(1.2768 1)">qv [m3/h]</text>
<text class="t" font-size="14" transform="translate(49.8 449.75) scale(1.32 1) rotate(-90) scale(1.0788 1)">Lw(A),5 [dB]</text>
<line class="g" x1="141.62" y1="588" x2="141.62" y2="746.7"/>
<line class="g" x1="181.73" y1="588" x2="181.73" y2="746.7"/>
<line class="g" x1="221.85" y1="588" x2="221.85" y2="746.7"/>
<line class="g" x1="261.97" y1="588" x2="261.97" y2="746.7"/>
<line class="g" x1="302.08" y1="588" x2="302.08" y2="746.7"/>
<line class="g" x1="342.2" y1="588" x2="342.2" y2="746.7"/>
<line class="g" x1="101.5" y1="714.96" x2="342.2" y2="714.96"/>
<line class="g" x1="101.5" y1="683.22" x2="342.2" y2="683.22"/>
<line class="g" x1="101.5" y1="651.48" x2="342.2" y2="651.48"/>
<line class="g" x1="101.5" y1="619.74" x2="342.2" y2="619.74"/>
<line class="g" x1="101.5" y1="588" x2="342.2" y2="588"/>
<line class="ax" x1="101.5" y1="588" x2="101.5" y2="751.5"/>
<line class="ax" x1="96" y1="746.7" x2="342.2" y2="746.7"/>
<line class="ax" x1="96" y1="746.7" x2="101.5" y2="746.7"/>
<text class="t" font-size="13.2" transform="translate(83.92 751.4) scale(1.1100 1)">0</text>
<line class="ax" x1="96" y1="714.96" x2="101.5" y2="714.96"/>
<text class="t" font-size="13.2" transform="translate(67.62 719.66) scale(1.1100 1)">500</text>
<line class="ax" x1="96" y1="683.22" x2="101.5" y2="683.22"/>
<text class="t" font-size="13.2" transform="translate(59.49 687.92) scale(1.1100 1)">1000</text>
<line class="ax" x1="96" y1="651.48" x2="101.5" y2="651.48"/>
<text class="t" font-size="13.2" transform="translate(59.49 656.18) scale(1.1100 1)">1500</text>
<line class="ax" x1="96" y1="619.74" x2="101.5" y2="619.74"/>
<text class="t" font-size="13.2" transform="translate(59.49 624.44) scale(1.1100 1)">2000</text>
<line class="ax" x1="96" y1="588" x2="101.5" y2="588"/>
<text class="t" font-size="13.2" transform="translate(59.49 592.7) scale(1.1100 1)">2500</text>
<line class="ax" x1="101.5" y1="746.7" x2="101.5" y2="751.5"/>
<text class="t" font-size="13.2" transform="translate(97.42 764.2) scale(1.1100 1)">0</text>
<line class="ax" x1="141.62" y1="746.7" x2="141.62" y2="751.5"/>
<text class="t" font-size="13.2" transform="translate(125.24 764.2) scale(1.1100 1)">2000</text>
<line class="ax" x1="181.73" y1="746.7" x2="181.73" y2="751.5"/>
<text class="t" font-size="13.2" transform="translate(165.56 764.2) scale(1.1100 1)">4000</text>
<line class="ax" x1="221.85" y1="746.7" x2="221.85" y2="751.5"/>
<text class="t" font-size="13.2" transform="translate(205.48 764.2) scale(1.1100 1)">6000</text>
<line class="ax" x1="261.97" y1="746.7" x2="261.97" y2="751.5"/>
<text class="t" font-size="13.2" transform="translate(245.65 764.2) scale(1.1100 1)">8000</text>
<line class="ax" x1="302.08" y1="746.7" x2="302.08" y2="751.5"/>
<line class="ax" x1="342.2" y1="746.7" x2="342.2" y2="751.5"/>
<text class="t" font-size="13.2" transform="translate(321.56 764.2) scale(1.1100 1)">12000</text>
<path class="c2" d="M103.2,664.6 104.66,664.09 106.11,663.56 107.55,663.01 108.97,662.44 110.39,661.86 111.79,661.25 113.18,660.63 114.57,659.99 115.94,659.33 117.3,658.66 118.65,657.97 119.99,657.26 121.32,656.54 122.65,655.81 123.96,655.06 125.27,654.3 126.57,653.52 127.86,652.74 129.14,651.94 130.42,651.13 131.69,650.3 132.95,649.47 134.21,648.63 135.46,647.78 136.71,646.92 137.95,646.05 139.18,645.17 140.42,644.28 141.64,643.39 142.87,642.49 144.08,641.59 145.3,640.67 146.51,639.76 147.72,638.84 148.93,637.91 150.13,636.98 151.34,636.05 152.54,635.12 153.74,634.18 154.94,633.24 156.14,632.3 157.33,631.36 158.53,630.42 159.73,629.48 160.93,628.54 162.13,627.6 163.33,626.67 164.53,625.73 165.73,624.8 166.94,623.87 168.15,622.95 169.36,622.03 170.57,621.11 171.79,620.2 173.01,619.3 174.23,618.4 175.46,617.51 176.69,616.62 177.93,615.74 179.17,614.87 180.42,614.01 181.67,613.16 182.93,612.32 184.19,611.49 185.46,610.67 186.74,609.86 188.03,609.06 189.32,608.27 190.62,607.5 191.93,606.74 193.25,605.99 194.57,605.26 195.91,604.54 197.25,603.83 198.6,603.15 199.96,602.47 201.34,601.82 202.72,601.18 204.12,600.56 205.52,599.95 206.93,599.37 208.35,598.81 209.78,598.26 211.22,597.74 212.67,597.25 214.12,596.77 215.58,596.32 217.05,595.89 218.52,595.5 219.99,595.12 221.47,594.78 222.96,594.46 224.44,594.17 225.93,593.92 227.43,593.69 228.92,593.49 230.42,593.33 231.92,593.2 233.41,593.11 234.91,593.05 236.41,593.03 237.91,593.04 239.4,593.09 240.9,593.18 242.39,593.31 243.87,593.47 245.36,593.67 246.83,593.91 248.31,594.19 249.77,594.5 251.23,594.84 252.68,595.22 254.13,595.64 255.56,596.09 256.99,596.57 258.4,597.09 259.8,597.64 261.19,598.23 262.57,598.84 263.94,599.49 265.29,600.17 266.63,600.88 267.95,601.62 269.27,602.38 270.57,603.17 271.86,603.98 273.13,604.82 274.4,605.68 275.65,606.57 276.88,607.47 278.11,608.39 279.32,609.33 280.52,610.29 281.71,611.27 282.88,612.26 284.04,613.26 285.19,614.28 286.33,615.31 287.46,616.35 288.58,617.41 289.69,618.48 290.78,619.55 291.87,620.64 292.95,621.73 294.02,622.84 295.09,623.95 296.15,625.07 297.2,626.19 298.24,627.32 299.28,628.45 300.31,629.59 301.33,630.74 302.36,631.88 303.37,633.03 304.39,634.18 305.4,635.33 306.4,636.48 307.41,637.63 308.41,638.78 309.41,639.92 310.41,641.07 311.41,642.21 312.41,643.34 313.41,644.48 314.41,645.6 315.41,646.72 316.41,647.84 317.41,648.95 318.42,650.04 319.43,651.14 320.44,652.22 321.46,653.29 322.48,654.35 323.5,655.4"/>
<path class="c2" d="M103.2,673 104.59,672.37 105.97,671.73 107.34,671.08 108.71,670.42 110.07,669.75 111.43,669.07 112.78,668.38 114.12,667.68 115.46,666.97 116.8,666.26 118.13,665.53 119.46,664.8 120.78,664.05 122.09,663.31 123.41,662.55 124.72,661.79 126.02,661.02 127.32,660.24 128.62,659.46 129.92,658.68 131.21,657.89 132.5,657.09 133.79,656.29 135.07,655.48 136.35,654.68 137.63,653.86 138.91,653.05 140.19,652.23 141.47,651.41 142.74,650.59 144.01,649.77 145.29,648.94 146.56,648.11 147.83,647.29 149.1,646.46 150.37,645.63 151.64,644.8 152.91,643.98 154.18,643.15 155.45,642.32 156.73,641.5 158,640.68 159.28,639.86 160.55,639.04 161.83,638.23 163.11,637.42 164.39,636.61 165.68,635.8 166.96,635 168.25,634.21 169.54,633.42 170.84,632.63 172.13,631.85 173.43,631.08 174.74,630.31 176.05,629.55 177.36,628.79 178.67,628.05 179.99,627.3 181.32,626.57 182.65,625.85 183.98,625.13 185.32,624.42 186.66,623.73 188.01,623.04 189.36,622.36 190.72,621.69 192.09,621.03 193.46,620.38 194.84,619.74 196.23,619.12 197.62,618.5 199.02,617.9 200.42,617.31 201.83,616.73 203.25,616.17 204.68,615.62 206.11,615.09 207.55,614.57 209,614.07 210.45,613.59 211.91,613.13 213.37,612.69 214.84,612.28 216.31,611.89 217.79,611.53 219.27,611.2 220.75,610.89 222.24,610.61 223.72,610.37 225.22,610.16 226.71,609.98 228.2,609.84 229.7,609.74 231.19,609.67 232.69,609.65 234.18,609.66 235.68,609.72 237.17,609.82 238.67,609.97 240.16,610.15 241.64,610.38 243.12,610.64 244.6,610.95 246.07,611.29 247.53,611.67 248.99,612.09 250.43,612.54 251.87,613.04 253.29,613.56 254.71,614.12 256.11,614.72 257.49,615.35 258.86,616.01 260.22,616.7 261.56,617.43 262.89,618.18 264.19,618.96 265.49,619.78 266.76,620.61 268.02,621.47 269.27,622.36 270.51,623.26 271.73,624.18 272.94,625.12 274.14,626.08 275.34,627.05 276.52,628.03 277.69,629.02 278.85,630.02 280.01,631.03 281.16,632.04 282.31,633.06 283.44,634.08 284.58,635.1 285.71,636.13 286.83,637.16 287.95,638.19 289.06,639.23 290.17,640.26 291.27,641.3 292.37,642.35 293.46,643.39 294.55,644.44 295.64,645.5 296.72,646.55 297.8,647.61 298.87,648.67 299.94,649.74 301.01,650.8 302.07,651.88 303.13,652.95 304.18,654.03 305.24,655.11 306.28,656.19 307.33,657.28 308.37,658.37 309.41,659.46 310.45,660.56 311.49,661.66 312.52,662.76 313.55,663.87 314.58,664.98 315.6,666.1"/>
<path class="c2" d="M103.21,703.2 104.59,702.81 105.98,702.4 107.37,701.97 108.75,701.53 110.14,701.07 111.53,700.6 112.93,700.11 114.32,699.61 115.71,699.1 117.11,698.57 118.5,698.04 119.9,697.49 121.29,696.93 122.69,696.36 124.09,695.78 125.49,695.19 126.89,694.6 128.29,694 129.7,693.39 131.1,692.78 132.5,692.16 133.91,691.53 135.32,690.9 136.72,690.27 138.13,689.63 139.54,688.99 140.95,688.35 142.37,687.71 143.78,687.07 145.19,686.43 146.61,685.79 148.03,685.15 149.44,684.51 150.86,683.88 152.28,683.25 153.7,682.62 155.13,682 156.55,681.38 157.97,680.76 159.4,680.16 160.83,679.56 162.25,678.97 163.68,678.38 165.11,677.81 166.55,677.24 167.98,676.69 169.41,676.14 170.85,675.61 172.28,675.09 173.72,674.58 175.16,674.09 176.6,673.6 178.04,673.14 179.49,672.68 180.93,672.25 182.38,671.83 183.82,671.42 185.27,671.04 186.72,670.67 188.17,670.32 189.62,669.99 191.08,669.68 192.53,669.39 193.99,669.12 195.44,668.88 196.9,668.65 198.36,668.45 199.83,668.28 201.29,668.12 202.75,668 204.22,667.9 205.69,667.82 207.16,667.77 208.63,667.75 210.1,667.76 211.57,667.79 213.05,667.86 214.52,667.95 216,668.08 217.48,668.23 218.96,668.42 220.44,668.64 221.93,668.9 223.41,669.18 224.9,669.5 226.38,669.85 227.87,670.23 229.35,670.64 230.83,671.08 232.3,671.55 233.77,672.05 235.24,672.57 236.7,673.11 238.15,673.68 239.6,674.28 241.04,674.9 242.46,675.54 243.88,676.2 245.29,676.88 246.68,677.58 248.06,678.3 249.43,679.03 250.79,679.79 252.13,680.56 253.45,681.34 254.76,682.14 256.05,682.95 257.32,683.77 258.57,684.61 259.8,685.45 261.01,686.31 262.2,687.18 263.37,688.05 264.53,688.93 265.67,689.81 266.81,690.69 267.95,691.57 269.11,692.45 270.28,693.32 271.47,694.18 272.7,695.03 273.96,695.86 275.26,696.68 276.61,697.48 278.02,698.25 279.49,699"/>
<path class="c2" d="M103.2,727.3 104.67,727.06 106.15,726.79 107.62,726.52 109.1,726.24 110.57,725.95 112.05,725.65 113.53,725.35 115.01,725.03 116.49,724.71 117.97,724.38 119.46,724.05 120.94,723.71 122.43,723.36 123.91,723.02 125.4,722.67 126.88,722.31 128.37,721.96 129.86,721.6 131.35,721.25 132.84,720.89 134.33,720.54 135.82,720.18 137.32,719.83 138.81,719.48 140.3,719.13 141.8,718.79 143.29,718.45 144.79,718.12 146.28,717.79 147.78,717.47 149.28,717.15 150.77,716.85 152.27,716.55 153.77,716.26 155.27,715.98 156.76,715.71 158.26,715.45 159.76,715.2 161.26,714.97 162.76,714.75 164.26,714.54 165.76,714.34 167.26,714.16 168.76,714 170.26,713.85 171.76,713.71 173.26,713.6 174.76,713.5 176.26,713.42 177.76,713.36 179.26,713.32 180.76,713.29 182.26,713.29 183.76,713.32 185.26,713.36 186.75,713.43 188.25,713.52 189.75,713.63 191.25,713.77 192.75,713.93 194.25,714.11 195.74,714.32 197.24,714.55 198.73,714.8 200.22,715.07 201.71,715.36 203.2,715.67 204.69,716 206.18,716.35 207.66,716.71 209.14,717.1 210.62,717.49 212.1,717.91 213.57,718.34 215.04,718.78 216.51,719.24 217.97,719.71 219.43,720.2 220.89,720.69 222.34,721.2 223.79,721.72 225.23,722.25 226.67,722.79 228.11,723.34 229.54,723.9 230.96,724.46 232.39,725.03 233.8,725.61"/>
<path class="c2" d="M103.2,740 104.72,739.83 106.24,739.65 107.76,739.48 109.29,739.3 110.81,739.12 112.34,738.95 113.87,738.77 115.4,738.6 116.93,738.43 118.47,738.25 120,738.09 121.54,737.92 123.08,737.76 124.62,737.6 126.16,737.44 127.7,737.29 129.24,737.14 130.78,737 132.33,736.87 133.87,736.74 135.41,736.61 136.96,736.5 138.5,736.39 140.05,736.28 141.6,736.19 143.14,736.1 144.69,736.02 146.23,735.96 147.78,735.9 149.33,735.85 150.87,735.81 152.42,735.78 153.96,735.77 155.51,735.76 157.05,735.77 158.59,735.79 160.14,735.82 161.68,735.87 163.22,735.93 164.76,736 166.3,736.09 167.83,736.19 169.37,736.31 170.91,736.44 172.44,736.59 173.97,736.75 175.5,736.94 177.03,737.13 178.56,737.35 180.09,737.59 181.61,737.84 183.13,738.11 184.65,738.41 186.17,738.72 187.69,739.05 189.2,739.4"/>
<path class="c2" d="M103.2,744.3 143.6,744.3"/>
<text class="ti" font-size="17" transform="translate(31.13 546.75) scale(1.2592 1)">Power input</text>
<text class="t" font-size="14" transform="translate(184.14 781.4) scale(1.2696 1)">qv [m3/h]</text>
<text class="t" font-size="14" transform="translate(49.8 697.16) scale(1.32 1) rotate(-90) scale(1.0905 1)">Psys [W]</text>
<line class="g" x1="552.45" y1="588" x2="552.45" y2="746.8"/>
<line class="g" x1="592.6" y1="588" x2="592.6" y2="746.8"/>
<line class="g" x1="632.75" y1="588" x2="632.75" y2="746.8"/>
<line class="g" x1="672.9" y1="588" x2="672.9" y2="746.8"/>
<line class="g" x1="713.05" y1="588" x2="713.05" y2="746.8"/>
<line class="g" x1="753.2" y1="588" x2="753.2" y2="746.8"/>
<line class="g" x1="512.3" y1="724.11" x2="753.2" y2="724.11"/>
<line class="g" x1="512.3" y1="701.43" x2="753.2" y2="701.43"/>
<line class="g" x1="512.3" y1="678.74" x2="753.2" y2="678.74"/>
<line class="g" x1="512.3" y1="656.06" x2="753.2" y2="656.06"/>
<line class="g" x1="512.3" y1="633.37" x2="753.2" y2="633.37"/>
<line class="g" x1="512.3" y1="610.69" x2="753.2" y2="610.69"/>
<line class="g" x1="512.3" y1="588" x2="753.2" y2="588"/>
<line class="ax" x1="512.4" y1="588" x2="512.4" y2="751.6"/>
<line class="ax" x1="506.5" y1="746.8" x2="753.2" y2="746.8"/>
<line class="ax" x1="506.5" y1="746.8" x2="512.4" y2="746.8"/>
<text class="t" font-size="13.2" transform="translate(496.52 751.5) scale(1.1100 1)">0</text>
<line class="ax" x1="506.5" y1="724.11" x2="512.4" y2="724.11"/>
<text class="t" font-size="13.2" transform="translate(488.39 728.81) scale(1.1100 1)">10</text>
<line class="ax" x1="506.5" y1="701.43" x2="512.4" y2="701.43"/>
<text class="t" font-size="13.2" transform="translate(488.39 706.13) scale(1.1100 1)">20</text>
<line class="ax" x1="506.5" y1="678.74" x2="512.4" y2="678.74"/>
<text class="t" font-size="13.2" transform="translate(488.39 683.44) scale(1.1100 1)">30</text>
<line class="ax" x1="506.5" y1="656.06" x2="512.4" y2="656.06"/>
<text class="t" font-size="13.2" transform="translate(488.39 660.76) scale(1.1100 1)">40</text>
<line class="ax" x1="506.5" y1="633.37" x2="512.4" y2="633.37"/>
<text class="t" font-size="13.2" transform="translate(488.39 638.07) scale(1.1100 1)">50</text>
<line class="ax" x1="506.5" y1="610.69" x2="512.4" y2="610.69"/>
<text class="t" font-size="13.2" transform="translate(488.39 615.39) scale(1.1100 1)">60</text>
<line class="ax" x1="506.5" y1="588" x2="512.4" y2="588"/>
<text class="t" font-size="13.2" transform="translate(488.39 592.7) scale(1.1100 1)">70</text>
<line class="ax" x1="512.4" y1="746.8" x2="512.4" y2="751.6"/>
<text class="t" font-size="13.2" transform="translate(508.22 764.2) scale(1.1100 1)">0</text>
<line class="ax" x1="552.45" y1="746.8" x2="552.45" y2="751.6"/>
<text class="t" font-size="13.2" transform="translate(536.08 764.2) scale(1.1100 1)">2000</text>
<line class="ax" x1="592.6" y1="746.8" x2="592.6" y2="751.6"/>
<text class="t" font-size="13.2" transform="translate(576.43 764.2) scale(1.1100 1)">4000</text>
<line class="ax" x1="632.75" y1="746.8" x2="632.75" y2="751.6"/>
<text class="t" font-size="13.2" transform="translate(616.38 764.2) scale(1.1100 1)">6000</text>
<line class="ax" x1="672.9" y1="746.8" x2="672.9" y2="751.6"/>
<text class="t" font-size="13.2" transform="translate(656.58 764.2) scale(1.1100 1)">8000</text>
<line class="ax" x1="713.05" y1="746.8" x2="713.05" y2="751.6"/>
<line class="ax" x1="753.2" y1="746.8" x2="753.2" y2="751.6"/>
<text class="t" font-size="13.2" transform="translate(732.56 764.2) scale(1.1100 1)">12000</text>
<path class="c2" d="M513.3,739.39 513.97,738.07 514.62,736.72 515.25,735.36 515.85,733.99 516.43,732.6 517,731.19 517.54,729.78 518.07,728.35 518.58,726.91 519.08,725.46 519.57,724.01 520.05,722.54 520.52,721.07 520.99,719.59 521.45,718.11 521.9,716.63 522.36,715.14 522.81,713.66 523.27,712.17 523.73,710.68 524.19,709.2 524.66,707.71 525.13,706.23 525.62,704.76 526.11,703.29 526.62,701.83 527.14,700.38 527.68,698.93 528.23,697.5 528.81,696.07 529.4,694.66 530.02,693.26 530.65,691.87 531.32,690.5 532.01,689.15 532.73,687.81 533.47,686.49 534.25,685.19 535.07,683.91 535.91,682.65 536.8,681.43 537.72,680.37 538.7,679.58 539.74,679.22 540.84,679.4 541.96,680.08 543.01,681.02 543.95,682.09 544.78,683.27 545.51,684.55 546.15,685.91 546.71,687.35 547.2,688.85 547.62,690.4 547.99,692 548.31,693.62 548.59,695.27 548.85,696.91 549.09,698.56 549.33,700.19 549.56,701.79 549.79,703.37 550.02,704.92 550.25,706.45 550.48,707.96 550.71,709.45 550.93,710.92 551.16,712.38 551.38,713.83 551.61,715.26 551.83,716.69 552.04,718.12 552.26,719.54 552.47,720.95 552.68,722.37 552.88,723.79 553.08,725.22 553.27,726.65 553.47,728.09 553.65,729.54 553.83,731 554.01,732.48 554.18,733.98 554.34,735.49 554.5,737.03 554.65,738.59 554.8,740.17 554.93,741.78 555.06,743.42 555.19,745.1 555.3,746.8"/>
<path class="c2" d="M513.31,739.4 513.73,737.98 514.14,736.57 514.56,735.15 514.97,733.72 515.39,732.29 515.8,730.86 516.22,729.43 516.64,727.99 517.06,726.55 517.48,725.1 517.91,723.66 518.33,722.21 518.76,720.76 519.19,719.3 519.62,717.85 520.05,716.39 520.49,714.94 520.93,713.48 521.37,712.02 521.82,710.56 522.26,709.1 522.71,707.65 523.17,706.19 523.63,704.73 524.09,703.27 524.55,701.81 525.02,700.36 525.49,698.9 525.97,697.45 526.45,696 526.93,694.55 527.42,693.1 527.92,691.66 528.42,690.22 528.92,688.78 529.43,687.34 529.95,685.91 530.47,684.48 530.99,683.05 531.52,681.63 532.06,680.21 532.6,678.8 533.15,677.39 533.71,675.99 534.27,674.59 534.84,673.2 535.41,671.81 535.99,670.43 536.58,669.05 537.18,667.68 537.78,666.32 538.39,664.96 539,663.61 539.63,662.27 540.26,660.93 540.9,659.6 541.55,658.28 542.21,656.97 542.87,655.66 543.54,654.35 544.22,653.04 544.9,651.73 545.59,650.42 546.28,649.11 546.98,647.8 547.69,646.48 548.4,645.15 549.11,643.81 549.83,642.47 550.55,641.11 551.28,639.74 552.01,638.36 552.74,636.96 553.47,635.55 554.21,634.11 554.95,632.66 555.69,631.19 556.43,629.69 557.17,628.17 557.92,626.64 558.68,625.13 559.45,623.66 560.25,622.25 561.07,620.93 561.93,619.72 562.83,618.65 563.77,617.75 564.76,617.03 565.81,616.52 566.92,616.25 568.1,616.22 569.32,616.43 570.56,616.84 571.82,617.43 573.06,618.19 574.28,619.09 575.46,620.11 576.57,621.23 577.6,622.42 578.53,623.67 579.36,624.96 580.1,626.29 580.75,627.65 581.33,629.04 581.84,630.46 582.29,631.9 582.7,633.36 583.07,634.84 583.4,636.32 583.72,637.82 584.03,639.32 584.33,640.82 584.63,642.32 584.94,643.81 585.24,645.31 585.55,646.8 585.86,648.29 586.17,649.78 586.48,651.28 586.79,652.76 587.1,654.25 587.41,655.74 587.72,657.23 588.03,658.71 588.34,660.2 588.65,661.68 588.96,663.16 589.27,664.65 589.58,666.13 589.88,667.61 590.19,669.09 590.49,670.57 590.8,672.05 591.1,673.53 591.4,675.01 591.69,676.49 591.99,677.97 592.28,679.45 592.58,680.93 592.86,682.41 593.15,683.89 593.43,685.37 593.71,686.85 593.99,688.33 594.26,689.81 594.53,691.29 594.8,692.77 595.06,694.25 595.32,695.74 595.58,697.22 595.83,698.7 596.07,700.19 596.32,701.67 596.55,703.16 596.79,704.64 597.01,706.13 597.24,707.62 597.45,709.11 597.67,710.6 597.87,712.09 598.07,713.58 598.27,715.07 598.46,716.57 598.64,718.06 598.82,719.56 598.99,721.06 599.15,722.56 599.31,724.06 599.46,725.56 599.6,727.07 599.74,728.57 599.86,730.08 599.99,731.59 600.1,733.1 600.2,734.62 600.3,736.13 600.39,737.65 600.47,739.17 600.54,740.69 600.61,742.22 600.66,743.74 600.71,745.27 600.75,746.8"/>
<path class="c2" d="M513.3,739.39 513.72,737.98 514.13,736.55 514.54,735.13 514.94,733.7 515.34,732.26 515.73,730.82 516.11,729.38 516.49,727.93 516.86,726.48 517.22,725.02 517.59,723.56 517.95,722.1 518.3,720.63 518.65,719.16 519,717.69 519.35,716.22 519.69,714.74 520.04,713.27 520.38,711.79 520.72,710.3 521.06,708.82 521.4,707.34 521.73,705.85 522.07,704.37 522.42,702.88 522.76,701.4 523.1,699.91 523.45,698.42 523.79,696.94 524.14,695.45 524.5,693.97 524.85,692.48 525.21,691 525.58,689.52 525.95,688.04 526.32,686.56 526.7,685.08 527.09,683.61 527.48,682.14 527.88,680.67 528.28,679.2 528.69,677.74 529.11,676.28 529.54,674.82 529.97,673.37 530.42,671.92 530.87,670.47 531.33,669.03 531.8,667.6 532.28,666.17 532.78,664.74 533.28,663.32 533.79,661.9 534.32,660.49 534.86,659.08 535.41,657.68 535.97,656.29 536.55,654.9 537.14,653.52 537.74,652.15 538.36,650.78 538.99,649.43 539.63,648.07 540.29,646.73 540.97,645.39 541.66,644.06 542.37,642.74 543.1,641.43 543.84,640.13 544.6,638.84 545.37,637.56 546.16,636.29 546.97,635.03 547.8,633.78 548.64,632.55 549.5,631.32 550.38,630.11 551.27,628.91 552.19,627.72 553.12,626.55 554.07,625.39 555.04,624.24 556.03,623.11 557.04,622 558.07,620.9 559.11,619.81 560.18,618.74 561.27,617.69 562.38,616.66 563.5,615.64 564.65,614.63 565.81,613.65 566.99,612.68 568.19,611.73 569.4,610.79 570.63,609.87 571.86,608.96 573.11,608.06 574.37,607.19 575.63,606.32 576.91,605.47 578.19,604.63 579.47,603.81 580.76,603 582.06,602.2 583.35,601.41 584.65,600.64 585.94,599.88 587.25,599.15 588.56,598.48 589.89,597.87 591.25,597.36 592.64,596.97 594.06,596.7 595.52,596.58 597.01,596.6 598.51,596.75 600,597.03 601.47,597.42 602.91,597.92 604.3,598.52 605.62,599.21 606.87,599.98 608.05,600.82 609.16,601.74 610.21,602.73 611.2,603.78 612.13,604.89 613.01,606.05 613.84,607.27 614.63,608.53 615.38,609.82 616.09,611.16 616.77,612.52 617.42,613.91 618.04,615.32 618.65,616.75 619.23,618.19 619.8,619.64 620.36,621.09 620.92,622.54 621.46,623.99 622,625.44 622.53,626.9 623.05,628.35 623.57,629.8 624.07,631.25 624.57,632.7 625.07,634.16 625.55,635.61 626.03,637.06 626.5,638.51 626.96,639.97 627.42,641.42 627.87,642.88 628.31,644.33 628.74,645.79 629.17,647.24 629.59,648.7 630,650.15 630.41,651.61 630.81,653.07 631.21,654.53 631.59,655.98 631.97,657.44 632.35,658.9 632.71,660.36 633.07,661.82 633.43,663.29 633.77,664.75 634.12,666.21 634.45,667.67 634.78,669.14 635.1,670.6 635.42,672.07 635.73,673.54 636.03,675 636.33,676.47 636.62,677.94 636.91,679.41 637.19,680.88 637.47,682.35 637.74,683.83 638,685.3 638.26,686.77 638.51,688.25 638.76,689.73 639,691.2 639.23,692.68 639.46,694.16 639.69,695.64 639.91,697.13 640.12,698.61 640.33,700.09 640.53,701.58 640.73,703.07 640.93,704.55 641.12,706.04 641.3,707.53 641.48,709.03 641.65,710.52 641.82,712.01 641.99,713.51 642.15,715.01 642.3,716.51 642.45,718.01 642.6,719.51 642.74,721.01 642.88,722.51 643.01,724.02 643.14,725.53 643.26,727.04 643.38,728.55 643.5,730.06 643.61,731.57 643.72,733.09 643.82,734.61 643.92,736.13 644.02,737.65 644.11,739.17 644.2,740.69 644.28,742.22 644.36,743.75 644.44,745.27 644.51,746.81"/>
<path class="c2" d="M513.3,739.39 513.83,738.01 514.35,736.62 514.88,735.23 515.4,733.83 515.92,732.44 516.45,731.04 516.97,729.64 517.5,728.23 518.02,726.83 518.55,725.42 519.08,724.01 519.6,722.6 520.13,721.19 520.66,719.78 521.19,718.36 521.73,716.95 522.26,715.53 522.8,714.12 523.33,712.7 523.87,711.28 524.42,709.87 524.96,708.45 525.51,707.03 526.06,705.61 526.61,704.19 527.16,702.78 527.72,701.36 528.28,699.94 528.84,698.53 529.41,697.11 529.98,695.7 530.56,694.29 531.13,692.88 531.71,691.47 532.3,690.06 532.89,688.66 533.48,687.25 534.08,685.85 534.68,684.45 535.29,683.05 535.9,681.66 536.51,680.26 537.13,678.87 537.76,677.49 538.39,676.1 539.02,674.72 539.66,673.34 540.31,671.97 540.96,670.6 541.62,669.23 542.29,667.87 542.96,666.51 543.63,665.16 544.32,663.8 545,662.46 545.7,661.12 546.4,659.78 547.11,658.45 547.83,657.12 548.55,655.79 549.28,654.48 550.02,653.16 550.76,651.86 551.51,650.56 552.28,649.26 553.04,647.97 553.82,646.69 554.6,645.41 555.4,644.14 556.2,642.88 557.01,641.62 557.83,640.37 558.67,639.13 559.51,637.89 560.36,636.67 561.22,635.45 562.09,634.24 562.98,633.04 563.87,631.84 564.78,630.66 565.7,629.48 566.63,628.31 567.57,627.16 568.52,626.01 569.49,624.87 570.47,623.74 571.46,622.63 572.47,621.52 573.49,620.42 574.53,619.34 575.58,618.26 576.64,617.2 577.72,616.15 578.81,615.11 579.92,614.08 581.04,613.06 582.18,612.06 583.34,611.06 584.51,610.08 585.7,609.12 586.9,608.16 588.12,607.22 589.36,606.3 590.62,605.39 591.89,604.5 593.17,603.62 594.47,602.77 595.79,601.94 597.12,601.13 598.46,600.35 599.82,599.6 601.18,598.87 602.56,598.18 603.96,597.51 605.36,596.88 606.77,596.28 608.2,595.72 609.63,595.2 611.08,594.72 612.53,594.28 613.99,593.88 615.46,593.52 616.94,593.21 618.42,592.95 619.9,592.74 621.38,592.58 622.86,592.49 624.33,592.45 625.79,592.47 627.23,592.57 628.66,592.73 630.06,592.96 631.44,593.27 632.8,593.66 634.12,594.13 635.41,594.68 636.67,595.31 637.9,596.02 639.08,596.81 640.23,597.66 641.34,598.59 642.41,599.58 643.43,600.63 644.42,601.74 645.36,602.91 646.27,604.12 647.15,605.38 647.98,606.68 648.79,608.01 649.57,609.37 650.32,610.75 651.05,612.16 651.75,613.58 652.43,615.01 653.09,616.44 653.73,617.88 654.36,619.31 654.97,620.75 655.57,622.2 656.15,623.64 656.73,625.08 657.3,626.52 657.86,627.96 658.42,629.4 658.97,630.83 659.53,632.27 660.08,633.69 660.63,635.12 661.19,636.54 661.76,637.95 662.33,639.36 662.9,640.77 663.47,642.17 664.05,643.56 664.63,644.96 665.22,646.35 665.8,647.73 666.39,649.12 666.97,650.5 667.56,651.89 668.14,653.27 668.73,654.65 669.31,656.03 669.89,657.41 670.46,658.79 671.03,660.17 671.6,661.55 672.16,662.94 672.72,664.32 673.27,665.71 673.81,667.1 674.35,668.5 674.88,669.89 675.4,671.3 675.92,672.7 676.42,674.11 676.91,675.53 677.4,676.95 677.87,678.38 678.33,679.81 678.79,681.25 679.23,682.69 679.67,684.13 680.09,685.58 680.5,687.04 680.91,688.5 681.31,689.96 681.69,691.42 682.07,692.89 682.44,694.37 682.79,695.84 683.14,697.32 683.48,698.8 683.81,700.29 684.14,701.78 684.45,703.26 684.75,704.76 685.05,706.25 685.34,707.75 685.62,709.24 685.89,710.74 686.15,712.24 686.4,713.75 686.65,715.25 686.88,716.75 687.11,718.26 687.33,719.76 687.54,721.27 687.75,722.78 687.95,724.28 688.13,725.79 688.32,727.3 688.49,728.8 688.65,730.31 688.81,731.81 688.96,733.32 689.11,734.82 689.24,736.33 689.37,737.83 689.49,739.33 689.61,740.82 689.72,742.32 689.82,743.82 689.91,745.31 690,746.8"/>
<path class="c2" d="M513.31,739.4 513.98,738.08 514.66,736.75 515.32,735.43 515.99,734.09 516.65,732.76 517.3,731.42 517.95,730.08 518.6,728.73 519.25,727.38 519.9,726.03 520.54,724.67 521.18,723.31 521.82,721.95 522.45,720.59 523.09,719.22 523.72,717.85 524.36,716.49 524.99,715.11 525.62,713.74 526.25,712.37 526.88,710.99 527.51,709.62 528.15,708.24 528.78,706.87 529.41,705.49 530.04,704.11 530.68,702.74 531.31,701.36 531.95,699.98 532.59,698.61 533.23,697.23 533.88,695.86 534.52,694.49 535.17,693.12 535.82,691.75 536.48,690.38 537.14,689.01 537.8,687.65 538.46,686.29 539.13,684.93 539.81,683.57 540.49,682.21 541.17,680.86 541.86,679.52 542.55,678.17 543.25,676.83 543.95,675.49 544.66,674.16 545.37,672.83 546.1,671.5 546.82,670.18 547.56,668.87 548.3,667.56 549.05,666.25 549.8,664.95 550.56,663.65 551.33,662.36 552.11,661.08 552.9,659.8 553.69,658.53 554.5,657.26 555.31,656 556.13,654.75 556.96,653.5 557.8,652.26 558.65,651.03 559.51,649.8 560.38,648.59 561.26,647.38 562.15,646.18 563.05,644.98 563.96,643.8 564.88,642.62 565.81,641.45 566.76,640.29 567.71,639.14 568.68,638 569.66,636.86 570.64,635.74 571.64,634.62 572.65,633.51 573.67,632.42 574.7,631.33 575.74,630.25 576.79,629.18 577.85,628.11 578.92,627.06 580,626.02 581.09,624.98 582.19,623.96 583.3,622.95 584.43,621.94 585.56,620.95 586.7,619.96 587.85,618.99 589.01,618.02 590.18,617.07 591.36,616.12 592.55,615.19 593.74,614.26 594.95,613.35 596.17,612.44 597.39,611.55 598.63,610.66 599.87,609.79 601.13,608.93 602.39,608.08 603.66,607.24 604.94,606.41 606.23,605.59 607.53,604.79 608.84,603.99 610.15,603.22 611.48,602.46 612.81,601.71 614.15,600.99 615.5,600.28 616.86,599.59 618.23,598.92 619.6,598.27 620.98,597.64 622.38,597.04 623.77,596.46 625.18,595.9 626.6,595.37 628.02,594.86 629.45,594.38 630.89,593.93 632.33,593.51 633.78,593.12 635.24,592.76 636.71,592.42 638.19,592.13 639.67,591.86 641.16,591.63 642.65,591.44 644.14,591.28 645.64,591.17 647.14,591.1 648.63,591.07 650.12,591.09 651.61,591.16 653.09,591.28 654.56,591.45 656.03,591.67 657.48,591.94 658.92,592.26 660.35,592.63 661.76,593.06 663.16,593.53 664.53,594.05 665.89,594.62 667.22,595.23 668.53,595.89 669.81,596.6 671.06,597.36 672.29,598.16 673.48,599.01 674.64,599.9 675.78,600.83 676.88,601.8 677.96,602.81 679,603.86 680.03,604.94 681.02,606.06 681.99,607.2 682.94,608.37 683.86,609.57 684.76,610.8 685.64,612.05 686.5,613.32 687.34,614.61 688.16,615.91 688.96,617.24 689.74,618.57 690.51,619.92 691.26,621.28 691.99,622.65 692.71,624.02 693.42,625.4 694.12,626.78 694.8,628.16 695.47,629.54 696.14,630.93 696.78,632.31 697.42,633.7 698.05,635.09 698.67,636.48 699.28,637.87 699.88,639.26 700.47,640.66 701.05,642.06 701.62,643.46 702.18,644.85 702.74,646.26 703.28,647.66 703.82,649.06 704.35,650.47 704.88,651.88 705.4,653.28 705.91,654.69 706.41,656.11 706.91,657.52 707.4,658.93 707.89,660.35 708.37,661.77 708.85,663.19 709.33,664.61 709.79,666.03 710.26,667.45 710.72,668.88 711.18,670.3 711.63,671.73 712.08,673.16 712.53,674.59 712.98,676.02 713.43,677.45 713.87,678.89 714.31,680.33 714.74,681.76 715.18,683.2 715.61,684.64 716.03,686.08 716.45,687.53 716.87,688.97 717.28,690.42 717.69,691.87 718.09,693.32 718.49,694.77 718.88,696.23 719.27,697.68 719.64,699.14 720.02,700.6 720.38,702.06 720.74,703.52 721.09,704.98 721.43,706.45 721.76,707.92 722.09,709.39 722.4,710.86 722.71,712.33 723.01,713.81 723.29,715.29 723.57,716.77 723.84,718.25 724.1,719.73 724.34,721.22 724.58,722.7 724.8,724.19 725.01,725.68 725.21,727.18 725.4,728.67 725.58,730.17 725.74,731.67 725.89,733.18 726.03,734.68 726.15,736.19 726.26,737.7 726.35,739.21 726.43,740.72 726.49,742.24 726.54,743.76 726.58,745.28 726.59,746.8"/>
<path class="c2" d="M513.3,739.39 514.04,738.1 514.76,736.81 515.49,735.51 516.2,734.2 516.91,732.89 517.62,731.57 518.32,730.25 519.01,728.93 519.7,727.6 520.39,726.26 521.07,724.93 521.75,723.58 522.43,722.24 523.1,720.89 523.77,719.54 524.44,718.19 525.1,716.83 525.76,715.47 526.42,714.11 527.08,712.74 527.74,711.38 528.39,710.01 529.04,708.64 529.7,707.27 530.35,705.9 531,704.53 531.65,703.15 532.31,701.78 532.96,700.41 533.61,699.03 534.27,697.66 534.92,696.29 535.58,694.91 536.24,693.54 536.9,692.17 537.56,690.8 538.22,689.43 538.89,688.06 539.56,686.7 540.24,685.34 540.91,683.98 541.59,682.62 542.28,681.26 542.97,679.91 543.66,678.56 544.36,677.21 545.06,675.87 545.77,674.53 546.48,673.19 547.2,671.86 547.92,670.53 548.65,669.21 549.39,667.89 550.13,666.58 550.89,665.27 551.64,663.97 552.41,662.67 553.18,661.38 553.96,660.09 554.75,658.81 555.54,657.54 556.35,656.27 557.16,655.01 557.99,653.76 558.82,652.51 559.66,651.27 560.51,650.04 561.37,648.81 562.24,647.6 563.13,646.39 564.02,645.19 564.92,644 565.84,642.82 566.76,641.64 567.7,640.48 568.65,639.32 569.61,638.17 570.58,637.04 571.56,635.91 572.55,634.79 573.56,633.68 574.57,632.57 575.59,631.48 576.63,630.4 577.68,629.32 578.73,628.26 579.8,627.2 580.88,626.16 581.96,625.12 583.06,624.09 584.17,623.08 585.29,622.07 586.42,621.07 587.56,620.08 588.71,619.1 589.87,618.13 591.04,617.17 592.22,616.23 593.4,615.29 594.6,614.36 595.81,613.44 597.03,612.53 598.26,611.63 599.5,610.74 600.75,609.86 602.01,609 603.28,608.14 604.55,607.29 605.84,606.46 607.14,605.63 608.44,604.82 609.76,604.02 611.08,603.24 612.41,602.47 613.75,601.72 615.1,600.98 616.46,600.26 617.82,599.56 619.19,598.88 620.57,598.22 621.96,597.58 623.36,596.97 624.76,596.37 626.17,595.8 627.59,595.26 629.01,594.74 630.44,594.25 631.88,593.78 633.32,593.35 634.77,592.94 636.22,592.56 637.68,592.22 639.15,591.9 640.62,591.62 642.09,591.37 643.57,591.16 645.06,590.99 646.54,590.85 648.02,590.75 649.51,590.7 650.99,590.69 652.47,590.72 653.94,590.8 655.41,590.93 656.87,591.11 658.32,591.33 659.77,591.61 661.2,591.94 662.62,592.31 664.03,592.73 665.43,593.19 666.81,593.7 668.18,594.25 669.52,594.85 670.85,595.49 672.16,596.17 673.45,596.89 674.72,597.65 675.97,598.45 677.19,599.29 678.39,600.17 679.56,601.08 680.71,602.03 681.84,603.01 682.94,604.02 684.02,605.06 685.08,606.13 686.12,607.23 687.14,608.36 688.13,609.51 689.11,610.68 690.07,611.87 691.01,613.09 691.94,614.32 692.85,615.58 693.74,616.85 694.61,618.13 695.47,619.43 696.32,620.74 697.15,622.06 697.96,623.39 698.77,624.72 699.56,626.07 700.34,627.42 701.1,628.77 701.86,630.12 702.61,631.48 703.34,632.83 704.07,634.19 704.78,635.55 705.49,636.91 706.19,638.27 706.87,639.63 707.55,640.99 708.22,642.35 708.88,643.72 709.53,645.08 710.16,646.45 710.8,647.82 711.42,649.19 712.03,650.56 712.63,651.94 713.23,653.31 713.82,654.69 714.39,656.07 714.96,657.46 715.52,658.84 716.08,660.23 716.62,661.62 717.16,663.01 717.69,664.41 718.21,665.81 718.72,667.21 719.23,668.62 719.73,670.02 720.22,671.44 720.7,672.85 721.18,674.27 721.65,675.69 722.11,677.12 722.56,678.55 723.01,679.98 723.45,681.41 723.89,682.85 724.31,684.3 724.73,685.74 725.14,687.19 725.54,688.65 725.94,690.1 726.33,691.56 726.71,693.02 727.08,694.48 727.44,695.95 727.8,697.42 728.15,698.89 728.49,700.37 728.82,701.84 729.14,703.32 729.46,704.8 729.76,706.28 730.06,707.77 730.35,709.26 730.63,710.74 730.9,712.24 731.16,713.73 731.41,715.22 731.66,716.72 731.89,718.21 732.12,719.71 732.33,721.21 732.54,722.71 732.74,724.21 732.92,725.71 733.1,727.22 733.27,728.72 733.43,730.22 733.58,731.73 733.71,733.24 733.84,734.74 733.96,736.25 734.07,737.76 734.16,739.26 734.25,740.77 734.33,742.28 734.39,743.79 734.45,745.29 734.49,746.8"/>
<text class="ti" font-size="17" transform="translate(441.83 546.1) scale(1.2588 1)">Efficiency</text>
<text class="t" font-size="14" transform="translate(595.04 781.6) scale(1.2696 1)">qv [m3/h]</text>
<text class="t" font-size="14" transform="translate(462.2 706.83) scale(1.32 1) rotate(-90) scale(1.1232 1)">ηsF,sys [%]</text>
<g class="wmg"><text class="wm1" font-size="105" transform="translate(33.31 473) scale(1.051 1)">恒</text>
<text class="wm1" font-size="105" transform="translate(157.33 473) scale(1.030 1)">瑞</text>
<text class="wm1" font-size="105" transform="translate(282.32 473) scale(1.071 1)">宏</text>
<text class="wm1" font-size="105" transform="translate(399.64 471) scale(1.102 1)">晟</text>
<text class="wm1" font-size="105" transform="translate(530.52 473) scale(0.999 1)">机</text>
<text class="wm1" font-size="105" transform="translate(646.03 472.5) scale(1.112 1)">电</text>
<text class="wm2" font-size="50.5" transform="scale(1.07 1)" x="32.53 91.51 147.02 202.98 235.73 280.74 312.73 357.29 404.61 446.21 497.19 532.48 578.4 608.16 638.16 681.53" y="557.7">www.bjhengrui.cn</text></g>
<rect x="0" y="0" width="800" height="21" fill="#fff"/>
</svg></body></html>
